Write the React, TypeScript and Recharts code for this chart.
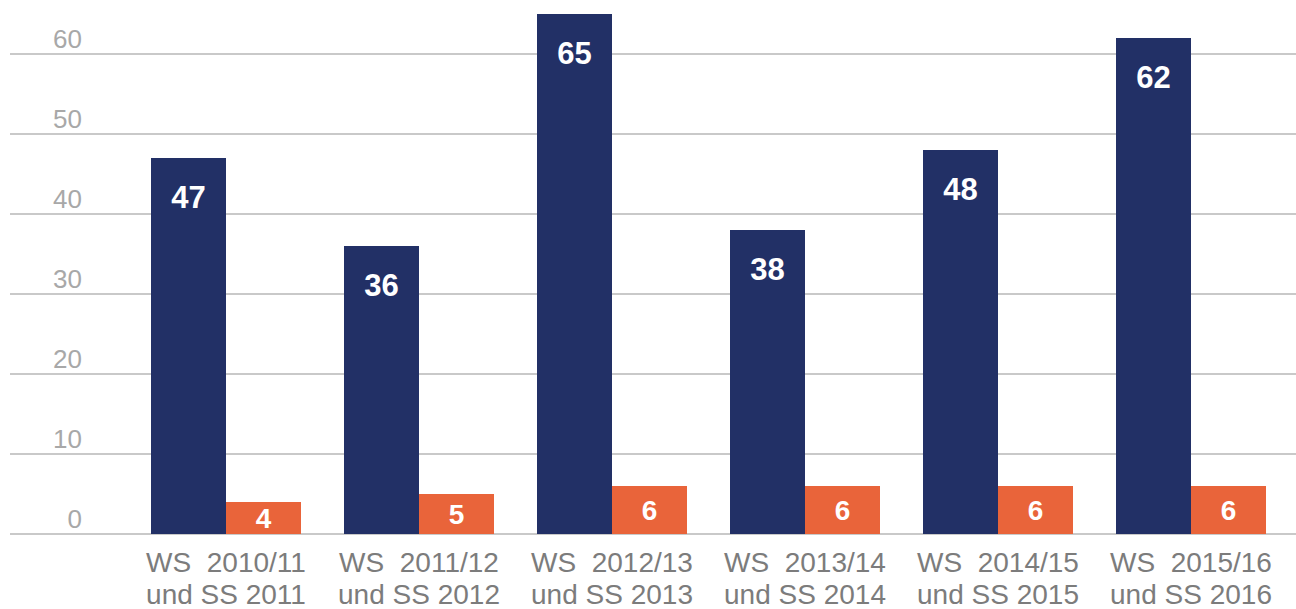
import { Bar, BarChart, CartesianGrid, LabelList, XAxis, YAxis } from "recharts";

const semesters = [
  "WS  2010/11",
  "WS  2011/12",
  "WS  2012/13",
  "WS  2013/14",
  "WS  2014/15",
  "WS  2015/16",
];
const summer = [
  "und SS 2011",
  "und SS 2012",
  "und SS 2013",
  "und SS 2014",
  "und SS 2015",
  "und SS 2016",
];
const blueValues = [47, 36, 65, 38, 48, 62];
const orangeValues = [4, 5, 6, 6, 6, 6];
const yTicks = [0, 10, 20, 30, 40, 50, 60];

const data = semesters.map((ws, i) => ({
  name: ws,
  ss: summer[i],
  blue: blueValues[i],
  orange: orangeValues[i],
}));

const FONT = '"Liberation Sans", Arial, Helvetica, sans-serif';

function XTick(props: any) {
  const { x, y, payload, index } = props;
  return (
    <g>
      <text
        x={x}
        y={y + 30}
        textAnchor="middle"
        fontSize={28}
        fill="#7c7c7c"
        fontFamily={FONT}
        style={{ whiteSpace: "pre" }}
      >
        {payload.value}
      </text>
      <text x={x} y={y + 62} textAnchor="middle" fontSize={28} fill="#7c7c7c" fontFamily={FONT}>
        {summer[index]}
      </text>
    </g>
  );
}

function YTick(props: any) {
  const { y, payload } = props;
  return (
    <text x={82} y={y - 6} textAnchor="end" fontSize={26} fill="#a8a8a8" fontFamily={FONT}>
      {payload.value}
    </text>
  );
}

export default function App() {
  return (
    <div style={{ position: "absolute", left: 0, top: 0, background: "#fff" }}>
      <BarChart
        width={1296}
        height={609}
        data={data}
        margin={{ top: 14, right: 0, bottom: 0, left: 0 }}
        barCategoryGap={21.5}
        barGap={0}
      >
        <CartesianGrid vertical={false} stroke="#c9c9c9" strokeWidth={2} syncWithTicks />
        <XAxis
          dataKey="name"
          axisLine={false}
          tickLine={false}
          height={75}
          interval={0}
          padding={{ left: 119.5, right: 8.5 }}
          tick={<XTick />}
        />
        <YAxis
          width={10}
          domain={[0, 65]}
          ticks={yTicks}
          interval={0}
          axisLine={false}
          tickLine={false}
          tick={<YTick />}
        />
        <Bar dataKey="blue" fill="#223066" isAnimationActive={false}>
          <LabelList
            dataKey="blue"
            position="insideTop"
            offset={28}
            fill="#ffffff"
            fontSize={31}
            fontWeight="bold"
            fontFamily={FONT}
          />
        </Bar>
        <Bar dataKey="orange" fill="#e9643a" isAnimationActive={false}>
          <LabelList
            dataKey="orange"
            position="center"
            fill="#ffffff"
            fontSize={28}
            fontWeight="bold"
            fontFamily={FONT}
          />
        </Bar>
      </BarChart>
    </div>
  );
}
